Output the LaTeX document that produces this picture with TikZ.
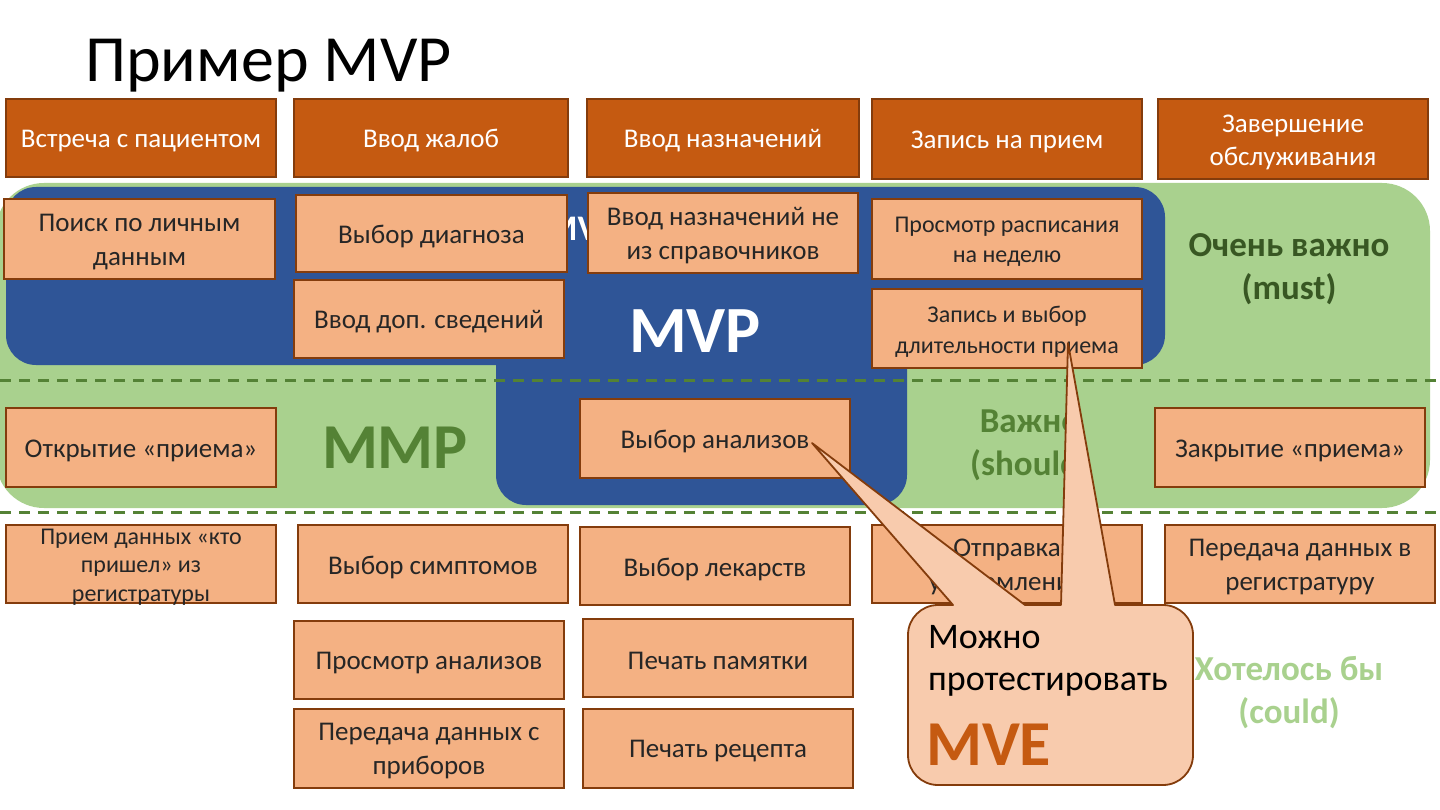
\documentclass[tikz,border=0pt]{standalone}
\usepackage{fontspec}
\setmainfont{Carlito}
\definecolor{dorange}{HTML}{C55A11}
\definecolor{brd}{HTML}{843C0C}
\definecolor{lorange}{HTML}{F4B183}
\definecolor{callfill}{HTML}{F8CBAD}
\definecolor{lgreen}{HTML}{A9D18E}
\definecolor{dgreen}{HTML}{548235}
\definecolor{ddgreen}{HTML}{385723}
\definecolor{mvpblue}{HTML}{2F5597}
\definecolor{txt}{HTML}{262626}
\tikzset{
  base/.style={draw=brd, line width=2pt, minimum width=270pt, minimum height=78pt, inner sep=2pt, align=center},
  hbox/.style={base, fill=dorange, text=white, font=\fontsize{27}{33}\selectfont},
  lbox/.style={base, fill=lorange, text=txt, font=\fontsize{27}{34}\selectfont},
  sbox/.style={lbox, font=\fontsize{24}{30}\selectfont},
  prio/.style={font=\bfseries\fontsize{35}{43}\selectfont, align=center},
  bigword/.style={font=\bfseries\fontsize{66}{70}\selectfont, anchor=base},
  sepline/.style={draw=dgreen, line width=3pt, dash pattern=on 11pt off 8pt},
  callout/.style={draw=brd, line width=1.8pt, fill=callfill, line join=round},
  bare/.style={draw=none, fill=none, minimum width=0pt, minimum height=0pt}
}
% style, name, centre, text
\newcommand{\mkbox}[4]{%
  \node[#1] (#2) at (#3) {};
  \node[#1, bare] (#2-t) at ([yshift=-3pt]#2.center) {#4};}
\begin{document}
\begin{tikzpicture}[x=1pt,y=-1pt]
\useasboundingbox (0,0) rectangle (1440,810);
\fill[white] (0,0) rectangle (1440,810);

% title
\node[anchor=base west, inner sep=0pt, font=\fontsize{66}{80}\selectfont] (title) at (85,82) {Пример MVP};

% header row
\mkbox{hbox}{h1}{141,138}{Встреча с пациентом}
\mkbox{hbox, minimum width=274pt}{h2}{431,138}{Ввод жалоб}
\mkbox{hbox, minimum width=272pt}{h3}{723,138}{Ввод назначений}
\mkbox{hbox, minimum height=80pt}{h4}{1007,139}{Запись на прием}
\mkbox{hbox, minimum height=80pt}{h5}{1293,139}{Завершение\\обслуживания}

% regions
\fill[lgreen, rounded corners=48pt] (-4,183) rectangle (1430,508);
\fill[mvpblue, rounded corners=30pt] (6,187) rectangle (1165,365);
\fill[mvpblue, rounded corners=30pt] (496,300) rectangle (907,505);
\node[anchor=base west, inner sep=0pt, text=white, font=\bfseries\fontsize{36}{40}\selectfont] (mvphidden) at (546,241) {MVP};

% separators
\coordinate (d1a) at (0,380); \coordinate (d1b) at (1440,380);
\coordinate (d2a) at (0,512); \coordinate (d2b) at (1440,512);
\draw[sepline] (d1a) -- (d1b);
\draw[sepline] (d2a) -- (d2b);

% labels
\node[bigword, text=white] (mvp) at (695,352) {MVP};
\node[bigword, text=dgreen, font=\bfseries\fontsize{64}{70}\selectfont] (mmp) at (395,468) {MMP};
\node[prio, text=ddgreen] (must) at (1289,269) {Очень важно\\(must)};
\node[prio, text=dgreen] (should) at (1030,445) {Важно\\(should)};
\node[prio, text=lgreen] (could) at (1289,693) {Хотелось бы\\(could)};

% must row
\mkbox{lbox, minimum width=271pt, minimum height=80pt}{m1}{139.5,239}{Поиск по личным\\данным}
\mkbox{lbox, minimum width=271pt, minimum height=77pt}{m2}{431.5,233.5}{Выбор диагноза}
\mkbox{lbox, minimum height=80pt}{m3}{723,233}{Ввод назначений не\\из справочников}
\mkbox{sbox, minimum height=80pt}{m4}{1007,239}{Просмотр расписания\\на неделю}
\mkbox{lbox}{m5}{429,319}{Ввод доп. сведений}
\mkbox{sbox, minimum height=79pt, font=\fontsize{24}{31}\selectfont}{m6}{1007,328.5}{Запись и выбор\\длительности приема}

% should row
\mkbox{lbox, minimum height=79pt}{s1}{141,447.5}{Открытие «приема»}
\mkbox{lbox, minimum height=79pt}{s2}{715,438.5}{Выбор анализов}
\mkbox{lbox, minimum height=79pt}{s3}{1290,447.5}{Закрытие «приема»}

% could rows
\mkbox{sbox, font=\fontsize{24}{28.5}\selectfont}{c1}{141,564}{Прием данных «кто\\пришел» из\\регистратуры}
\mkbox{lbox}{c2}{433,564}{Выбор симптомов}
\mkbox{lbox}{c3}{715,566}{Выбор лекарств}
\mkbox{lbox}{c4}{1007,564}{Отправка\\уведомлений}
\mkbox{lbox}{c5}{1300,564}{Передача данных в\\регистратуру}
\mkbox{lbox}{c6}{429,660}{Просмотр анализов}
\mkbox{lbox}{c7}{718,658}{Печать памятки}
\mkbox{lbox, minimum height=79pt}{c8}{429,748.5}{Передача данных с\\приборов}
\mkbox{lbox, minimum height=79pt}{c9}{718,748.5}{Печать рецепта}

% callout
\coordinate (tip1) at (812,443);
\coordinate (tip2) at (1068,343);
\draw[callout] (938,605) -- (953,605) -- (tip1) -- (1025,605) -- (1061,605) -- (tip2) -- (1115,605) -- (1163,605)
  arc[start angle=90, end angle=0, radius=30pt] -- (1193,755)
  arc[start angle=0, end angle=-90, radius=30pt] -- (938,785)
  arc[start angle=270, end angle=180, radius=30pt] -- (908,635)
  arc[start angle=180, end angle=90, radius=30pt] -- cycle;
\node[anchor=base west, inner sep=0pt, font=\fontsize{36}{40}\selectfont] (t1) at (928,648) {Можно};
\node[anchor=base west, inner sep=0pt, font=\fontsize{36}{40}\selectfont] (t2) at (928,690) {протестировать};
\node[anchor=base west, inner sep=0pt, text=dorange, font=\bfseries\fontsize{64}{70}\selectfont] (mve) at (926,765) {MVE};
\end{tikzpicture}
\end{document}
